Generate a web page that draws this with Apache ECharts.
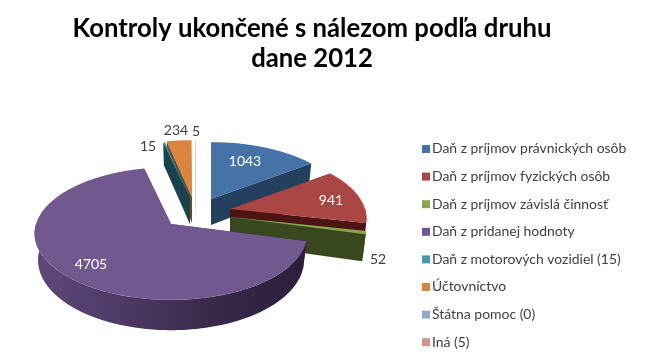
<!DOCTYPE html>
<html><head><meta charset="utf-8">
<style>html,body{margin:0;padding:0;background:#fff}#c{width:656px;height:364px}</style>
<script src="https://cdn.jsdelivr.net/npm/echarts@6/dist/echarts.min.js"></script>
</head><body><div id="c"></div>
<script>
const categories = ['Daň z príjmov právnických osôb','Daň z príjmov fyzických osôb','Daň z príjmov závislá činnosť','Daň z pridanej hodnoty','Daň z motorových vozidiel (15)','Účtovníctvo','Štátna pomoc (0)','Iná (5)'];
const values = [1043, 941, 52, 4705, 15, 234, 0, 5];
const labels = ['1043', '941', '52', '4705', '15', '234', '', '5'];
const topColors = ['#4572A7','#AA4643','#89A54E','#71588F','#4198AF','#DB843D','#93A9CF','#D19392'];
const wallColors = ['#24405f','#4c1513','#39471e','#3d2d55','#17434e','#7d4516','#3f5070','#6b2f2c'];

// projection of the tilted 3D pie
const R = 135, S = 65, K = 0.143, D = 26, SHRINK = 0.975;
// per-slice explosion: where each slice's apex lands
const apex = [[211,199],[230,209],[230,217],[171,224],[190,198],[192,197],[192,197],[196,197]];
const labelPos = [[245,161,'#fff'],[331,200,'#fff'],[378,259,'#404040'],[91,264,'#fff'],[148,146,'#404040'],[176,130,'#404040'],[0,0,'#fff'],[196,131,'#404040']];
const zOrder = [5,6,7,8,4,3,1,2];

const total = values.reduce((a,b)=>a+b,0);
function startOf(i){ let s=0; for(let j=0;j<i;j++) s+=values[j]; return s/total*Math.PI*2; }
function pt(i,t,rim,down){
  const u=rim?Math.sin(t):0, v=rim?-Math.cos(t):0, w=1/(1-K*v), sc=down?SHRINK:1;
  return [apex[i][0]+sc*R*u*w, apex[i][1]+S*v*w+(down?D*w:0)];
}
function arc(i,a,b,down){
  const n=Math.max(2,Math.ceil((b-a)/0.02)), p=[];
  for(let q=0;q<=n;q++) p.push(pt(i,a+(b-a)*q/n,true,down));
  return p;
}
function makeRender(i){
  return function(params,api){
    const v=api.value(0), children=[];
    const lp=labelPos[i];
    if(v>0){
      const a=startOf(i), b=a+v/total*Math.PI*2;
      const wallFill=wallColors[i];
      const wall=t=>[pt(i,t,false,false),pt(i,t,true,false),pt(i,t,true,true),pt(i,t,false,true)];
      children.push({type:'polygon',shape:{points:wall(a)},style:{fill:wallFill}});
      children.push({type:'polygon',shape:{points:wall(b)},style:{fill:wallFill}});
      const fa=Math.max(a,Math.PI/2), fb=Math.min(b,Math.PI*1.5);
      if(fb>fa){
        const upper=arc(i,fa,fb,false), lower=arc(i,fa,fb,true).reverse();
        let fill=wallFill;
        if(i===3) fill={type:'linear',x:34,y:0,x2:307,y2:0,global:true,colorStops:[
          {offset:0,color:'#604a7b'},{offset:0.35,color:'#4a3863'},{offset:0.7,color:'#362847'},{offset:1,color:'#2a1e3b'}]};
        children.push({type:'polygon',shape:{points:upper.concat(lower)},style:{fill}});
      }
      const top=[pt(i,0,false,false)].concat(arc(i,a,b,false));
      children.push({type:'polygon',shape:{points:top},style:{fill:topColors[i]}});
    }
    if(labels[i]) children.push({type:'text',z2:100,style:{text:labels[i],x:lp[0],y:lp[1],align:'center',verticalAlign:'middle',
      fill:lp[2],font:'14px Lato'}});
    return {type:'group',children};
  };
}
const chart=echarts.init(document.getElementById('c'),null,{renderer:'canvas'});
chart.setOption({
  animation:false,
  backgroundColor:'#fff',
  title:{text:'Kontroly ukončené s nálezom podľa druhu\ndane 2012',left:307,top:9,textAlign:'center',
    textStyle:{fontFamily:'Lato',fontWeight:'bold',fontSize:25.7,lineHeight:30,color:'#000'}},
  legend:{orient:'vertical',left:417,top:137,itemWidth:8,itemHeight:8,itemGap:13.6,data:categories,icon:'rect',
    textStyle:{fontFamily:'Lato',fontSize:13.95,color:'#404040',padding:[0,0,0,-3],lineHeight:14},selectedMode:false},
  series:categories.map((name,i)=>({
    type:'custom',name,coordinateSystem:'none',z:zOrder[i],silent:true,
    itemStyle:{color:topColors[i]},
    data:[[values[i]]],
    renderItem:makeRender(i)
  }))
});
</script></body></html>
